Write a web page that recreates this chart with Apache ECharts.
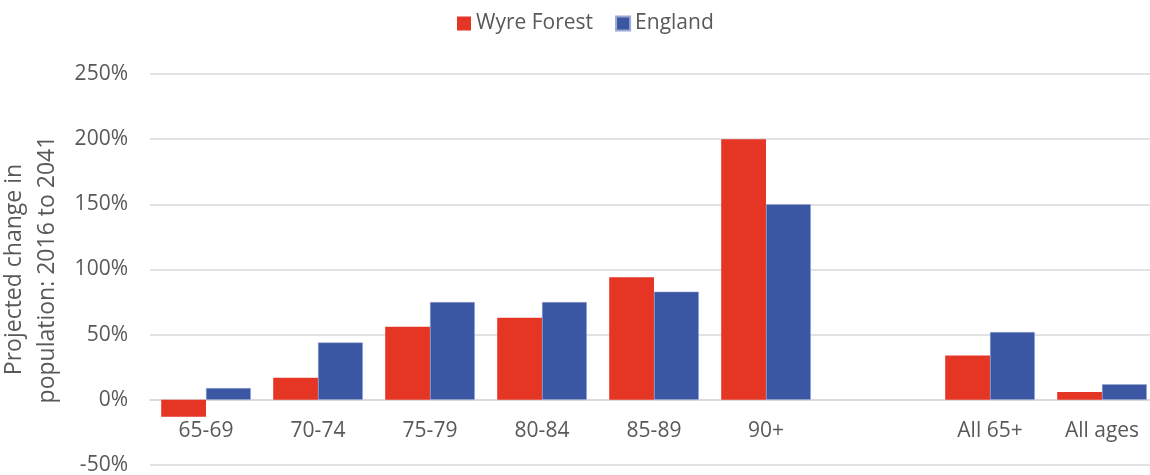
<!DOCTYPE html>
<html>
<head>
<meta charset="utf-8">
<script src="https://cdn.jsdelivr.net/npm/echarts@6/dist/echarts.min.js"></script>
<style>
html, body { margin: 0; padding: 0; background: #fff; }
#chart { width: 1150px; height: 475px; }
</style>
</head>
<body>
<div id="chart"></div>
<script>
// age groups (blank slot between 90+ and All 65+)
var ageGroups = ['65-69', '70-74', '75-79', '80-84', '85-89', '90+', '', 'All 65+', 'All ages'];
// projected % change 2016 to 2041
var wyreForest = [-13, 17, 56, 63, 94, 200, null, 34, 6];
var england = [9, 44, 75, 75, 83, 150, null, 52, 12];
var yTicks = { min: -50, max: 250, step: 50 };

var FONT = '"Open Sans", sans-serif';
var TXT = '#595959';

var gridTop = 74, gridBottom = 10, H = 475;
var plotH = H - gridTop - gridBottom;
// category labels sit on the 0% line like the original (v6 keeps them at the bottom otherwise)
var zeroShift = plotH * (0 - yTicks.min) / (yTicks.max - yTicks.min);

var chart = echarts.init(document.getElementById('chart'));
var option = {
    animation: false,
    textStyle: { fontFamily: FONT },
    legend: {
        data: ['Wyre Forest', 'England'],
        top: 8,
        left: 452,
        icon: 'rect',
        itemWidth: 14,
        itemHeight: 14,
        itemGap: 22,
        textStyle: { color: TXT, fontSize: 21, fontFamily: FONT }
    },
    grid: {
        left: 150,
        top: gridTop,
        width: 1008,
        bottom: gridBottom,
        containLabel: false,
        outerBoundsMode: 'none'
    },
    xAxis: {
        type: 'category',
        data: ageGroups,
        offset: -zeroShift,
        axisTick: { show: false },
        axisLine: { show: true, onZero: false, lineStyle: { color: '#d9d9d9', width: 1.5 } },
        axisLabel: { interval: 0, color: TXT, fontSize: 21, margin: 21 }
    },
    yAxis: {
        type: 'value',
        min: yTicks.min,
        max: yTicks.max,
        interval: yTicks.step,
        name: 'Projected change in\npopulation: 2016 to 2041',
        nameLocation: 'middle',
        nameGap: 77,
        nameTextStyle: { color: TXT, fontSize: 23, lineHeight: 33 },
        axisLabel: { formatter: '{value}%', color: TXT, fontSize: 21, margin: 22 },
        axisLine: { show: false },
        axisTick: { show: false },
        splitLine: { lineStyle: { color: '#d9d9d9', width: 1.5 } }
    },
    series: [
        {
            name: 'Wyre Forest',
            type: 'bar',
            data: wyreForest,
            barGap: '0%',
            barCategoryGap: '20%',
            itemStyle: { color: '#E43525' }
        },
        {
            name: 'England',
            type: 'bar',
            data: england,
            barGap: '0%',
            barCategoryGap: '20%',
            itemStyle: { color: '#3B56A3', borderColor: '#9aa8d2', borderWidth: 0.5 }
        }
    ]
};
chart.setOption(option);
</script>
</body>
</html>
